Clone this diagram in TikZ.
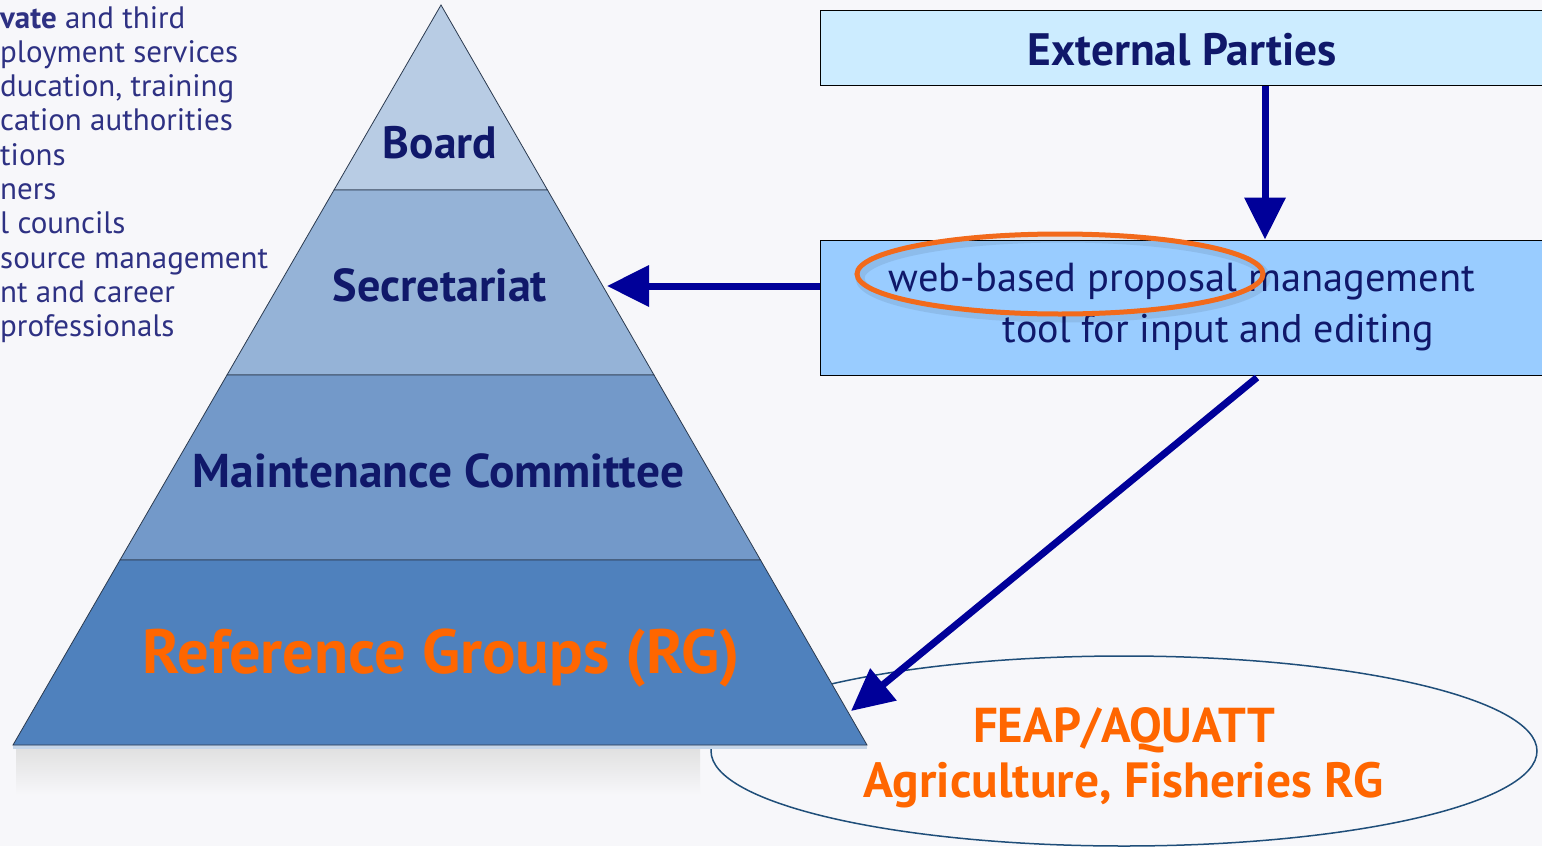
\documentclass[tikz,border=0pt]{standalone}
\usepackage{fontspec}
\setmainfont{PT Sans}
\usetikzlibrary{arrows.meta,shapes.geometric,calc}
\definecolor{bg}{HTML}{F7F7FA}
\definecolor{navy}{HTML}{10186A}
\definecolor{leftblue}{HTML}{2E3183}
\definecolor{orng}{HTML}{FF6600}
\definecolor{hlorange}{HTML}{F26A1B}
\definecolor{arrowblue}{HTML}{000099}
\definecolor{lvA}{HTML}{B8CCE4}
\definecolor{lvB}{HTML}{95B3D7}
\definecolor{lvC}{HTML}{7399C9}
\definecolor{lvD}{HTML}{4F81BD}
\definecolor{edge}{HTML}{2B3A4F}
\definecolor{boxA}{HTML}{CCECFF}
\definecolor{boxB}{HTML}{99CCFF}
\definecolor{ellline}{HTML}{1F4E79}
\newcommand{\fitw}[2]{\resizebox{#1}{!}{#2}}
\tikzset{
  layer/.style={draw=edge, line width=0.8pt},
  lbl/.style={inner sep=0pt, anchor=base, text=navy, font=\bfseries},
  orlbl/.style={inner sep=0pt, anchor=base, text=orng, font=\bfseries},
  boxtxt/.style={inner sep=0pt, anchor=base, text=navy},
  leftline/.style={inner sep=0pt, anchor=base west, text=leftblue, font=\fontsize{31}{34}\selectfont},
  panel/.style={draw=black, line width=1pt, rectangle, inner sep=0pt},
  arr/.style={draw=arrowblue, line width=7pt, -{Triangle[length=42pt,width=40pt]}}
}
\begin{document}
\begin{tikzpicture}[x=1pt,y=-1pt]
\useasboundingbox (0,0) rectangle (1542,846);
\clip (0,0) rectangle (1542,846);
\fill[bg] (0,0) rectangle (1542,846);

% left text (cut off at the left edge)
\node[leftline] (l1) at (0,28) {\textbf{vate} and third};
\node[leftline] (l2) at (0,62.3) {ployment services};
\node[leftline] (l3) at (0,96.6) {ducation, training};
\node[leftline] (l4) at (0,130.9) {cation authorities};
\node[leftline] (l5) at (0,165.2) {tions};
\node[leftline] (l6) at (0,199.5) {ners};
\node[leftline] (l7) at (0,233.8) {l councils};
\node[leftline] (l8) at (0,268.1) {source management};
\node[leftline] (l9) at (0,302.4) {nt and career};
\node[leftline] (l10) at (0,336.7) {professionals};

% pyramid shadow
\shade[top color=black!12, bottom color=bg] (16,748) rectangle (700,795);

% big ellipse (behind pyramid)
\node[ellipse, draw=ellline, line width=1.5pt, minimum width=826pt, minimum height=190pt, inner sep=0pt] (rgell) at (1124,751) {};

% pyramid layers
\fill[lvA!80] (13,745) rectangle (867,749);
\draw[layer, fill=lvA] (441,5) -- (547.5,190) -- (334,190) -- cycle;
\draw[layer, fill=lvB] (334,190) -- (547.5,190) -- (654,375) -- (227,375) -- cycle;
\draw[layer, fill=lvC] (227,375) -- (654,375) -- (760.5,560) -- (120,560) -- cycle;
\draw[layer, fill=lvD] (120,560) -- (760.5,560) -- (867,745) -- (13,745) -- cycle;

\node[lbl] (board) at (440,158) {\fitw{114pt}{Board}};
\node[lbl] (secr) at (440,301) {\fitw{214pt}{Secretariat}};
\node[lbl] (maint) at (438.5,487) {\fitw{491pt}{Maintenance Committee}};
\node[orlbl] (refg) at (441.5,673) {\fitw{597pt}{Reference Groups (RG)}};

% right boxes
\node[panel, fill=boxA, minimum width=730pt, minimum height=75pt] (ext) at (1185,47.5) {};
\node[lbl] (exttxt) at (1182.5,65) {\fitw{309pt}{External Parties}};
\node[panel, fill=boxB, minimum width=730pt, minimum height=135pt] (web) at (1185,307.5) {};
\node[boxtxt] (web1) at (1182,291) {\fitw{586pt}{web-based proposal management}};
\node[boxtxt] (web2) at (1218.5,342) {\fitw{431pt}{tool for input and editing}};

% orange highlight ellipse
\node[ellipse, draw=black, opacity=0.08, line width=9pt, minimum width=406pt, minimum height=80pt, inner sep=0pt] (hlsh) at (1063,278) {};
\node[ellipse, draw=hlorange, line width=5pt, minimum width=406pt, minimum height=80pt, inner sep=0pt] (hl) at (1060,274) {};

% ellipse text
\node[orlbl] (feap) at (1124,742) {\fitw{302pt}{FEAP/AQUATT}};
\node[orlbl] (agri) at (1123.5,797) {\fitw{519pt}{Agriculture, Fisheries RG}};

% connectors
\coordinate (dropx) at (1265,0);
\coordinate (sectip) at (607,286);
\coordinate (webout) at (1257,0);
\coordinate (rgtip) at (851,711);
\draw[arr] (ext.south -| dropx) -- (web.north -| dropx);
\draw[arr] (web.west |- sectip) -- (sectip);
\draw[arr] ($(web.south -| webout)+(0,2)$) -- (rgtip);
\end{tikzpicture}
\end{document}
